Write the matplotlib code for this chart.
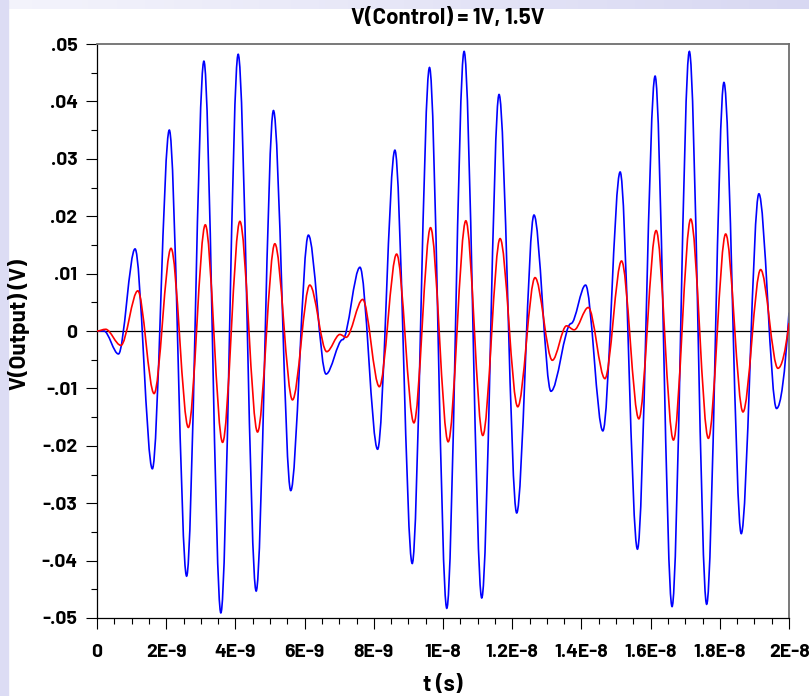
import numpy as np
import matplotlib
matplotlib.use('Agg')
import matplotlib.pyplot as plt
from matplotlib.path import Path
from matplotlib.patches import PathPatch, Rectangle

# Turning points (t in ns, V in volts)
blue_t = [0.0, 0.20, 0.62, 1.10, 1.60, 2.09, 2.59, 3.09, 3.58, 4.08, 4.60, 5.10,
          5.60, 6.11, 6.62, 7.10, 7.60, 8.11, 8.61, 9.11, 9.61, 10.11, 10.61,
          11.12, 11.62, 12.13, 12.63, 13.12, 13.70, 14.12, 14.62, 15.12, 15.62,
          16.13, 16.62, 17.12, 17.62, 18.12, 18.62, 19.13, 19.64, 20.0]
blue_v = [0.0, 0.0, -0.0040, 0.0143, -0.0240, 0.0350, -0.0427, 0.0470, -0.0491,
          0.0482, -0.0453, 0.0384, -0.0278, 0.0167, -0.0075, -0.0015, 0.0111,
          -0.0206, 0.0315, -0.0405, 0.0459, -0.0483, 0.0487, -0.0465, 0.0412,
          -0.0317, 0.0202, -0.0105, 0.0013, 0.0080, -0.0174, 0.0277, -0.0380,
          0.0444, -0.0480, 0.0487, -0.0476, 0.0433, -0.0353, 0.0239, -0.0135,
          0.0032]

red_t = [0.0, 0.25, 0.69, 1.18, 1.65, 2.14, 2.64, 3.13, 3.63, 4.13, 4.64, 5.14,
         5.65, 6.15, 6.64, 7.02, 7.20, 7.68, 8.16, 8.66, 9.16, 9.64, 10.15,
         10.66, 11.15, 11.65, 12.16, 12.66, 13.16, 13.57, 13.79, 14.20, 14.68,
         15.16, 15.66, 16.16, 16.66, 17.16, 17.67, 18.17, 18.67, 19.18, 19.68,
         20.0]
red_v = [0.0, 0.0003, -0.0025, 0.0070, -0.0109, 0.0144, -0.0168, 0.0185, -0.0194,
         0.0191, -0.0176, 0.0152, -0.0120, 0.0080, -0.0036, -0.0006, -0.0011,
         0.0055, -0.0097, 0.0134, -0.0160, 0.0180, -0.0193, 0.0192, -0.0182,
         0.0161, -0.0132, 0.0093, -0.0051, 0.0009, 0.0002, 0.0041, -0.0083,
         0.0122, -0.0153, 0.0175, -0.0190, 0.0195, -0.0187, 0.0169, -0.0141,
         0.0107, -0.0065, 0.0014]

x_ticks = [0, 2, 4, 6, 8, 10, 12, 14, 16, 18, 20]
x_labels = ['0', '2E-9', '4E-9', '6E-9', '8E-9', '1E-8', '1.2E-8', '1.4E-8',
            '1.6E-8', '1.8E-8', '2E-8']
y_ticks = [0.05, 0.04, 0.03, 0.02, 0.01, 0.0, -0.01, -0.02, -0.03, -0.04, -0.05]
y_labels = ['.05', '.04', '.03', '.02', '.01', '0', '-.01', '-.02', '-.03',
            '-.04', '-.05']


def wave_path(t, v):
    """Smooth path through turning points (flat tangent at each one)."""
    verts = [(t[0], v[0])]
    codes = [Path.MOVETO]
    n = len(t)
    for i in range(1, n):
        dt = t[i] - t[i - 1]
        if i == n - 1:
            end_cp = (t[i] - dt / 3, v[i] + 2 / 3 * (v[i - 1] - v[i]))
        else:
            end_cp = (t[i] - dt / 3, v[i])
        verts += [(t[i - 1] + dt / 3, v[i - 1]), end_cp, (t[i], v[i])]
        codes += [Path.CURVE4] * 3
    return Path(verts, codes)


font = dict(family=['Barlow', 'Barlow Semi Condensed', 'DejaVu Sans'],
            fontweight='bold')

fig = plt.figure(figsize=(8.09, 6.96), dpi=100, facecolor='white')

# lavender window border from the screenshot
fig.patches.append(Rectangle((0, 0), 8 / 809, 1, transform=fig.transFigure,
                             color='#dcdcf4', zorder=0))
bg = fig.add_axes([0, 1 - 9 / 696, 1, 9 / 696])
bg.imshow(np.linspace(0, 1, 256).reshape(1, -1), aspect='auto',
          cmap=matplotlib.colors.LinearSegmentedColormap.from_list(
              'lav', ['#f4f4fc', '#d8d8f2']))
bg.axis('off')

ax = fig.add_axes([97 / 809, 1 - 618 / 696, 692 / 809, 574 / 696])

ax.axhline(0, color='black', lw=0.9, zorder=1)
ax.add_patch(PathPatch(wave_path(blue_t, blue_v), fill=False,
                       edgecolor='#0000ff', lw=1.2, zorder=2))
ax.add_patch(PathPatch(wave_path(red_t, red_v), fill=False,
                       edgecolor='#ff0000', lw=1.2, zorder=3))

ax.set_xlim(0, 20)
ax.set_ylim(-0.05, 0.05)

ax.set_xticks(x_ticks)
ax.set_xticklabels(x_labels, fontsize=14, **font)
ax.set_xticks(np.arange(0, 20.01, 0.5), minor=True)
ax.set_yticks(y_ticks)
ax.set_yticklabels(y_labels, fontsize=14, **font)
ax.set_yticks(np.arange(-0.05, 0.0501, 0.005), minor=True)

ax.tick_params(which='major', direction='out', length=8, width=0.8)
ax.tick_params(axis='x', which='major', pad=11)
ax.tick_params(axis='y', which='major', pad=6)
ax.tick_params(which='minor', direction='out', length=4.5, width=0.8)

for side in ['left', 'bottom']:
    ax.spines[side].set_color('black')
    ax.spines[side].set_linewidth(0.9)
for side in ['top', 'right']:
    ax.spines[side].set_color('#6e6e6e')
    ax.spines[side].set_linewidth(1.3)

fig.text(448 / 809, 1 - 18 / 696, 'V(Control) = 1V, 1.5V', fontsize=16,
         ha='center', va='center', **font)
fig.text(443 / 809, 1 - 685 / 696, 't (s)', fontsize=16,
         ha='center', va='center', **font)
fig.text(19 / 809, 1 - 325 / 696, 'V(Output) (V)', fontsize=16, rotation=90,
         ha='center', va='center', **font)

fig.savefig('out.png', dpi=100)
